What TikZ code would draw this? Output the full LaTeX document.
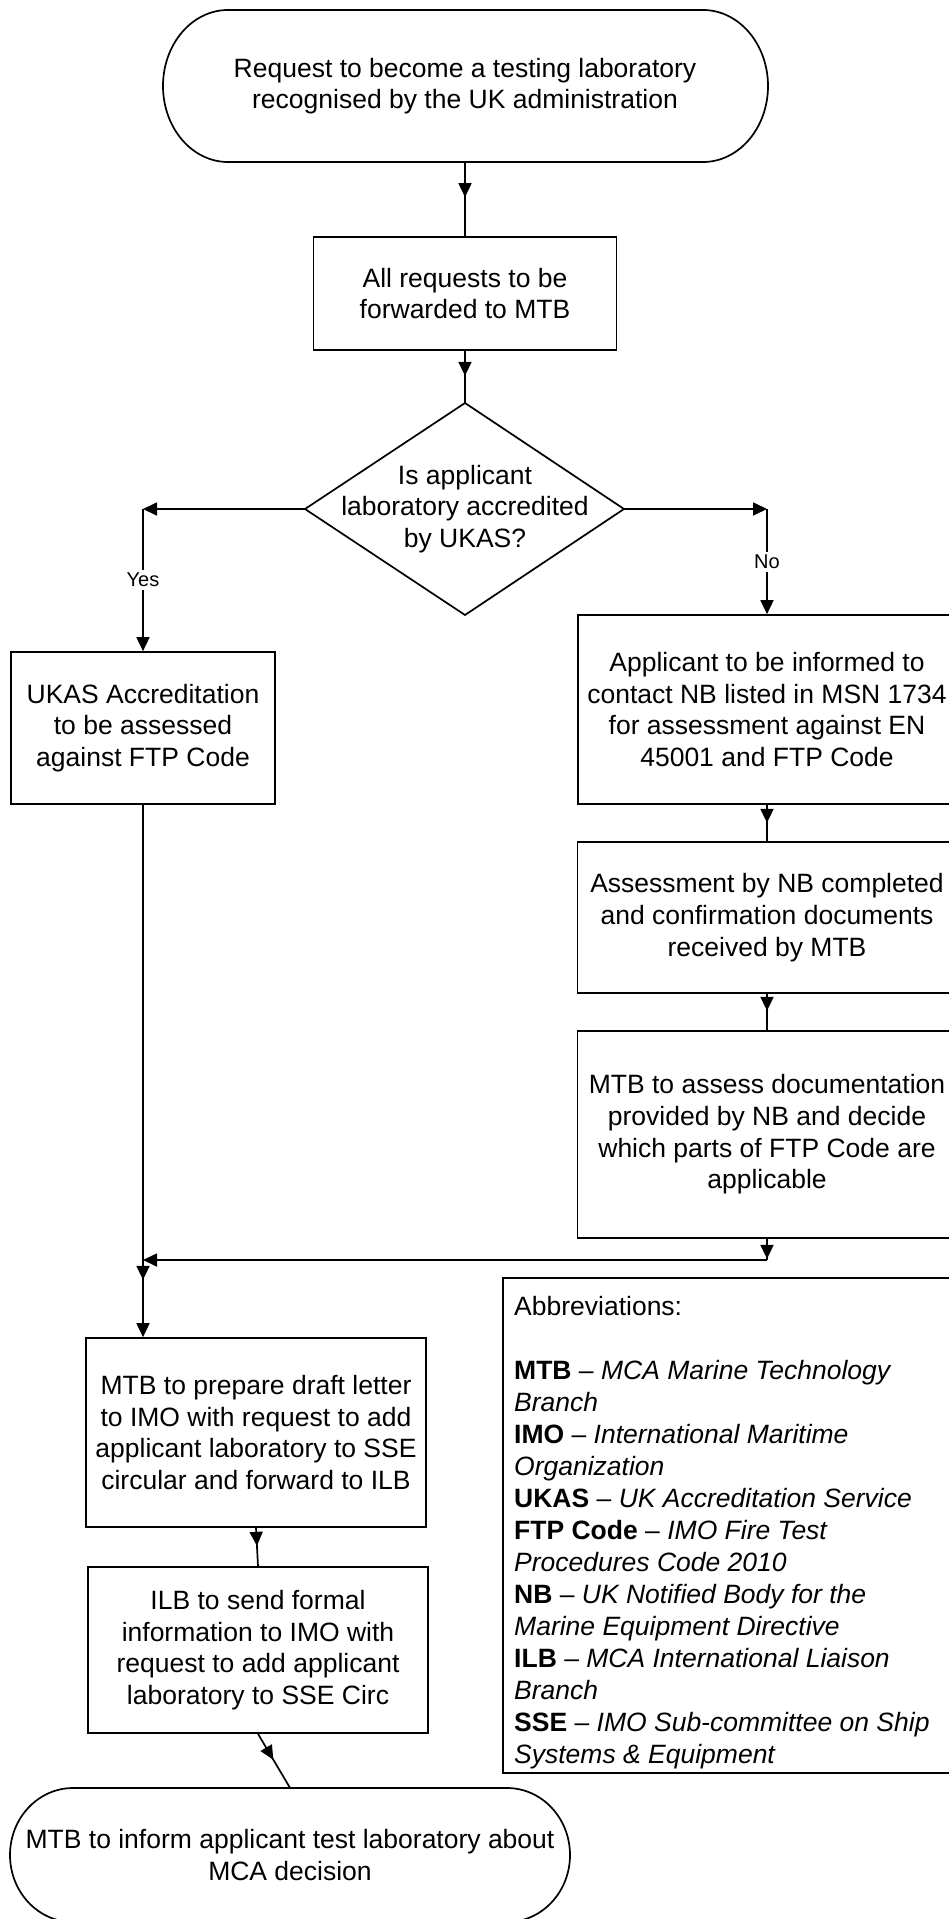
\documentclass[tikz,border=0pt]{standalone}
\usepackage{fontspec}
\setmainfont{Liberation Sans}
\usetikzlibrary{arrows.meta,decorations.markings}
\begin{document}
\begin{tikzpicture}[x=1pt,y=-1pt,
  every node/.style={font=\fontsize{26.5pt}{31.7pt}\selectfont, inner sep=0pt},
  line/.style={line width=1.7pt},
  box/.style={draw, line width=1.7pt, align=center, inner sep=0pt},
  arr/.style={line width=1.7pt, -{Triangle[length=14pt,width=13pt]}},
  midarr/.style={postaction={decorate}, decoration={markings, mark=at position #1 with {\arrow{Triangle[length=14pt,width=13pt]}}}},
  lbl/.style={fill=white, font=\fontsize{20pt}{24pt}\selectfont, inner sep=3pt},
  term/.style={line width=1.7pt}
]
\clip (0,0) rectangle (949,1919);
\fill[white] (0,0) rectangle (949,1919);

% start terminator
\draw[term] (228,10) -- (703,10) .. controls (738.9,10) and (768,44) .. (768,86)
  .. controls (768,128) and (738.9,162) .. (703,162) -- (228,162)
  .. controls (192.1,162) and (163,128) .. (163,86)
  .. controls (163,44) and (192.1,10) .. (228,10) -- cycle;
\node[minimum width=605pt, minimum height=152pt, align=center] (start) at (465,86)
  {Request to become a testing laboratory\\recognised by the UK administration};

\node[box, minimum width=303pt, minimum height=113pt] (req) at (465,293.5)
  {All requests to be\\forwarded to MTB};

% decision diamond
\coordinate (dN) at (465,403);
\coordinate (dE) at (624,509);
\coordinate (dS) at (465,615);
\coordinate (dW) at (305,509);
\draw[line] (dN) -- (dE) -- (dS) -- (dW) -- cycle;
\node[align=center] (dec) at (465,509) {Is applicant\\laboratory accredited\\by UKAS?};

\coordinate (yesc) at (143,509);
\coordinate (noc) at (767,509);

\node[box, minimum width=264pt, minimum height=152pt] (ukas) at (143,728)
  {UKAS Accreditation\\to be assessed\\against FTP Code};
\node[box, minimum width=378pt, minimum height=189pt] (appl) at (767,709.5)
  {Applicant to be informed to\\contact NB listed in MSN 1734\\for assessment against EN\\45001 and FTP Code};
\node[box, minimum width=379pt, minimum height=151pt] (nbdone) at (767,917.5)
  {Assessment by NB completed\\and confirmation documents\\received by MTB};
\node[box, minimum width=379pt, minimum height=207pt] (mtbdoc) at (767,1134.5)
  {MTB to assess documentation\\provided by NB and decide\\which parts of FTP Code are\\applicable};

\coordinate (jR) at (767,1260);
\coordinate (jL) at (143,1260);

\node[box, minimum width=340pt, minimum height=189pt] (draft) at (256,1432.5)
  {MTB to prepare draft letter\\to IMO with request to add\\applicant laboratory to SSE\\circular and forward to ILB};
\node[box, minimum width=340pt, minimum height=166pt] (ilb) at (258,1650)
  {ILB to send formal\\information to IMO with\\request to add applicant\\laboratory to SSE Circ};

% end terminator
\draw[term] (73,1788) -- (507,1788) .. controls (541.8,1788) and (570,1818) .. (570,1855)
  .. controls (570,1892) and (541.8,1922) .. (507,1922) -- (73,1922)
  .. controls (38.2,1922) and (10,1892) .. (10,1855)
  .. controls (10,1818) and (38.2,1788) .. (73,1788) -- cycle;
\node[minimum width=560pt, minimum height=134pt, align=center] (finish) at (290,1855)
  {MTB to inform applicant test laboratory about\\MCA decision};

% abbreviations
\node[draw, line width=1.7pt, minimum width=470pt, minimum height=495pt, anchor=north west] (abbrbox) at (502,1277) {};
\node[anchor=north west, align=left, font=\fontsize{26.5pt}{32pt}\selectfont] (abbr) at (514,1296)
  {Abbreviations:\\[32pt]
   \textbf{MTB} \textendash{} \textit{MCA Marine Technology}\\
   \textit{Branch}\\
   \textbf{IMO} \textendash{} \textit{International Maritime}\\
   \textit{Organization}\\
   \textbf{UKAS} \textendash{} \textit{UK Accreditation Service}\\
   \textbf{FTP Code} \textendash{} \textit{IMO Fire Test}\\
   \textit{Procedures Code 2010}\\
   \textbf{NB} \textendash{} \textit{UK Notified Body for the}\\
   \textit{Marine Equipment Directive}\\
   \textbf{ILB} \textendash{} \textit{MCA International Liaison}\\
   \textit{Branch}\\
   \textbf{SSE} \textendash{} \textit{IMO Sub-committee on Ship}\\
   \textit{Systems \& Equipment}};

% connectors
\draw[line, midarr=35pt] (start.south) -- (req.north);
\draw[line, midarr=25pt] (req.south) -- (dN);
\draw[arr] (dW) -- (yesc);
\draw[arr] (yesc) -- node[lbl] {Yes} (ukas.north);
\draw[arr] (dE) -- (noc);
\draw[arr] (noc) -- node[lbl] {No} (appl.north);
\draw[line, midarr=18pt] (appl.south) -- (nbdone.north);
\draw[line, midarr=17pt] (nbdone.south) -- (mtbdoc.north);
\draw[line, midarr=20pt] (mtbdoc.south) -- (jR);
\draw[arr] (jR) -- (jL);
\draw[arr, midarr=475pt] (ukas.south) -- (ukas.south |- draft.north);
\draw[line, midarr=18pt] (draft.south) -- (ilb.north);
\draw[line, midarr=30pt] (ilb.south) -- (finish.north);
\end{tikzpicture}
\end{document}
